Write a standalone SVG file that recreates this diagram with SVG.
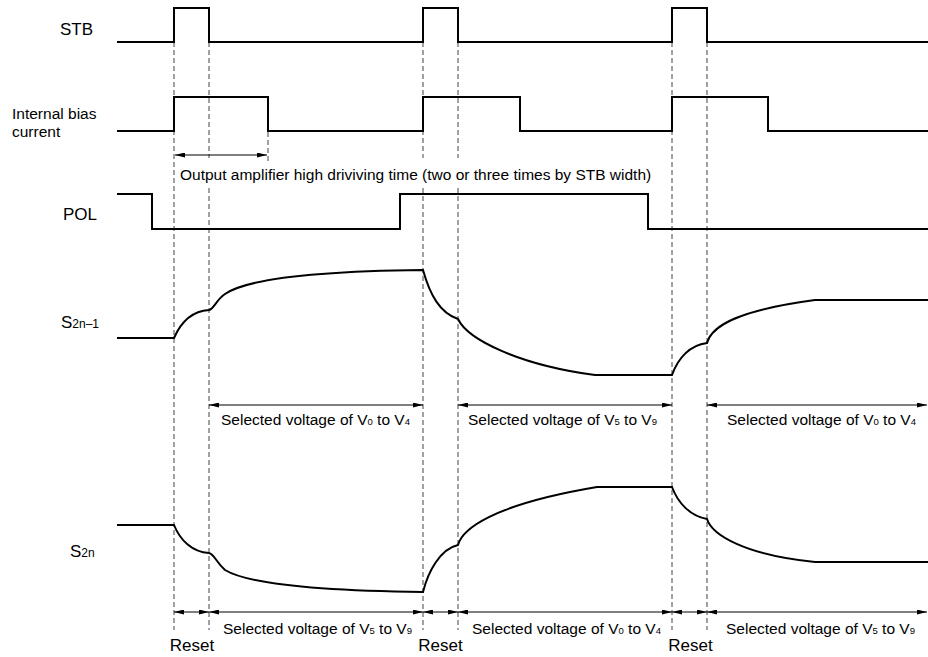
<svg xmlns="http://www.w3.org/2000/svg" width="928" height="657" viewBox="0 0 928 657">
<style>
text{font-family:"Liberation Sans",Arial,sans-serif;fill:#000}
.t{font-size:15.5px}
.big{font-size:17px}
.sub{font-size:9.5px}
.lsub{font-size:12px}
.sig{fill:none;stroke:#000;stroke-width:2;stroke-linejoin:miter}
.dash{fill:none;stroke:#444;stroke-width:1;stroke-dasharray:5,3}
.dim{fill:none;stroke:#000;stroke-width:1;marker-start:url(#ah);marker-end:url(#ah)}
</style>
<defs>
<marker id="ah" viewBox="0 0 10 5" refX="10" refY="2.5" markerWidth="10" markerHeight="5" markerUnits="userSpaceOnUse" orient="auto-start-reverse">
<path d="M0,0 L10,2.5 L0,5 z" fill="#000"/>
</marker>
</defs>
<rect width="928" height="657" fill="#fff"/>

<g id="guides">
<path class="dash" d="M174,42 V630"/>
<path class="dash" d="M209,42 V158 M209,188 V630"/>
<path class="dash" d="M423,42 V158 M423,188 V630"/>
<path class="dash" d="M458,42 V158 M458,188 V630"/>
<path class="dash" d="M672,42 V630"/>
<path class="dash" d="M707,42 V630"/>
<path class="dash" d="M268,132 V163"/>
</g>

<g id="stb">
<text class="big" x="60" y="35">STB</text>
<path class="sig" d="M117,42 H174 V8 H209 V42 H423 V8 H458 V42 H672 V8 H707 V42 H928"/>
</g>

<g id="bias">
<text class="t" x="12" y="119">Internal bias</text>
<text class="t" x="12" y="137">current</text>
<path class="sig" d="M117,131 H174 V97 H268 V131 H423 V97 H520 V131 H672 V97 H768 V131 H928"/>
</g>

<g id="pol">
<text class="big" x="63" y="220">POL</text>
<path class="sig" d="M117,194 H152 V229 H400 V194 H648 V229 H928"/>
</g>

<g id="s2n1">
<text class="big" x="61" y="328">S<tspan class="lsub">2n–1</tspan></text>
<path class="sig" d="M117,338 H174 C181,322 192,311 209,310 C214,309 216,300 225,294 C250,277 330,271 423,270 C430,295 440,313 458,319 C468,340 520,365 595,375 H672 C678,358 690,345 707,343 C712,325 740,310 815,300 H928"/>
</g>

<g id="s2n">
<text class="big" x="70" y="557">S<tspan class="lsub">2n</tspan></text>
<path class="sig" d="M117,525 H174 C180,540 192,552 209,553 C214,554 216,562 225,570 C250,585 330,591 423,592 C428,572 440,549 458,545 C462,530 490,505 597,487 H672 C678,503 690,516 707,519 C712,535 745,555 815,562 H928"/>
</g>

<g id="connectors">
<path class="dim" d="M175,155 H267" stroke="#333"/>
<path class="dim" d="M209,405 H423"/>
<path class="dim" d="M458,405 H672"/>
<path class="dim" d="M707,405 H927"/>
<path class="dim" d="M174,612 H209"/>
<path class="dim" d="M209,612 H423"/>
<path class="dim" d="M423,612 H458"/>
<path class="dim" d="M458,612 H672"/>
<path class="dim" d="M672,612 H707"/>
<path class="dim" d="M707,612 H927"/>
</g>

<g id="labels">
<text class="t" x="180" y="180">Output amplifier high driviving time (two or three times by STB width)</text>
<text class="t" x="221" y="425">Selected voltage of V<tspan class="sub">0</tspan> to V<tspan class="sub">4</tspan></text>
<text class="t" x="468" y="425">Selected voltage of V<tspan class="sub">5</tspan> to V<tspan class="sub">9</tspan></text>
<text class="t" x="727" y="425">Selected voltage of V<tspan class="sub">0</tspan> to V<tspan class="sub">4</tspan></text>
<text class="t" x="223" y="634">Selected voltage of V<tspan class="sub">5</tspan> to V<tspan class="sub">9</tspan></text>
<text class="t" x="472" y="634">Selected voltage of V<tspan class="sub">0</tspan> to V<tspan class="sub">4</tspan></text>
<text class="t" x="726" y="634">Selected voltage of V<tspan class="sub">5</tspan> to V<tspan class="sub">9</tspan></text>
<text class="big" x="192" y="651" text-anchor="middle">Reset</text>
<text class="big" x="440.5" y="651" text-anchor="middle">Reset</text>
<text class="big" x="690.5" y="651" text-anchor="middle">Reset</text>
</g>
</svg>
